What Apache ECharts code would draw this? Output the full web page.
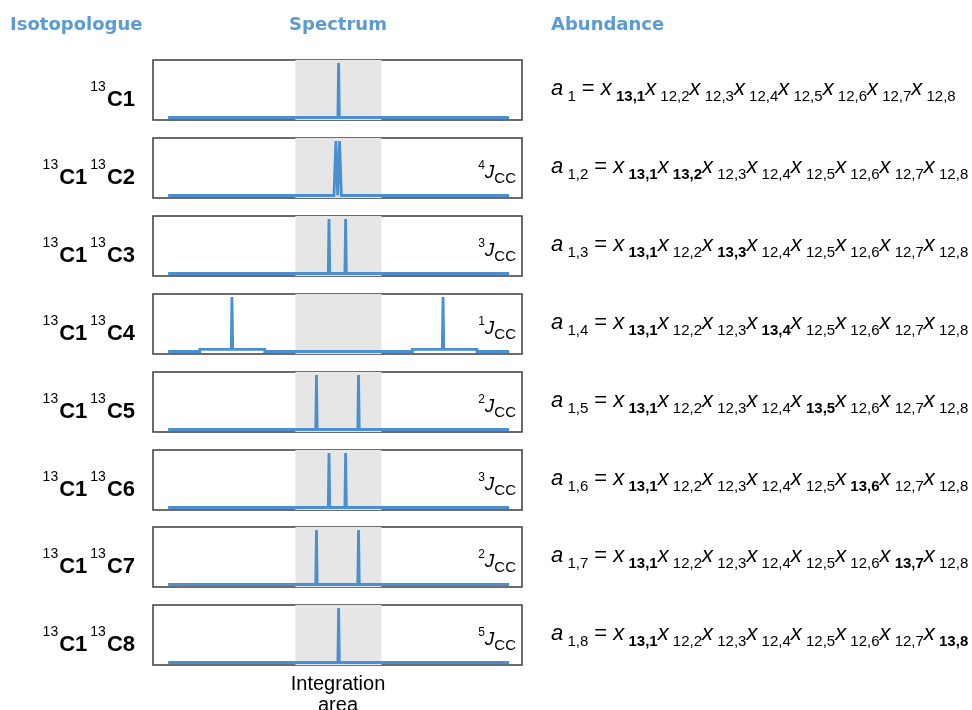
<!DOCTYPE html>
<html>
<head>
<meta charset="utf-8">
<script src="https://cdn.jsdelivr.net/npm/echarts@6/dist/echarts.min.js"></script>
<style>
  html, body { margin: 0; padding: 0; background: #ffffff; }
  #chart { width: 972px; height: 710px; }
</style>
</head>
<body>
<div id="chart"></div>
<script>
// ---------- data ----------
const headers = ['Isotopologue', 'Spectrum', 'Abundance'];
const secondCarbon = [null, 2, 3, 4, 5, 6, 7, 8];
const couplingOrder = [null, 4, 3, 1, 2, 3, 2, 5];
const integrationArea = [-11.4, 11.9];
const bottomLabel = 'Integration\narea';

// spectra: [shift, intensity] points
const spec1 = [[-45.9, 0], [0.1, 0], [0.3, 1], [0.5, 0], [46.5, 0]];
const spec2 = [[-45.9, 0], [-0.95, 0], [-0.45, 1], [0.05, 0], [0.55, 1], [1.05, 0], [46.5, 0]];
const spec3 = [[-45.9, 0], [-2.5, 0], [-2.3, 1], [-2.1, 0], [2.0, 0], [2.2, 1], [2.4, 0], [46.5, 0]];
const spec4 = [[-45.9, 0], [-37.3, 0], [-37.3, 0.04], [-28.8, 0.04], [-28.6, 1], [-28.4, 0.04], [-19.7, 0.04], [-19.7, 0],
               [20.3, 0], [20.3, 0.04], [28.4, 0.04], [28.6, 1], [28.8, 0.04], [37.8, 0.04], [37.8, 0], [46.5, 0]];
const spec5 = [[-45.9, 0], [-5.9, 0], [-5.7, 1], [-5.5, 0], [5.5, 0], [5.7, 1], [5.9, 0], [46.5, 0]];
const spec6 = [[-45.9, 0], [-2.5, 0], [-2.3, 1], [-2.1, 0], [2.0, 0], [2.2, 1], [2.4, 0], [46.5, 0]];
const spec7 = [[-45.9, 0], [-5.9, 0], [-5.7, 1], [-5.5, 0], [5.5, 0], [5.7, 1], [5.9, 0], [46.5, 0]];
const spec8 = [[-45.9, 0], [0.1, 0], [0.3, 1], [0.5, 0], [46.5, 0]];
const spectra = [spec1, spec2, spec3, spec4, spec5, spec6, spec7, spec8];

// ---------- layout ----------
const boxLeft = 153, boxWidth = 369, boxHeight = 60;
const boxTops = [60, 138, 216, 294, 372, 450, 527, 605];
const blue = '#5b9bd5';
const lineBlue = '#4a8fd1';

const grids = [], xAxes = [], yAxes = [], series = [], graphics = [];

spectra.forEach((d, i) => {
  grids.push({
    left: boxLeft, top: boxTops[i], width: boxWidth, height: boxHeight,
    show: true, borderColor: '#3c3c3c', borderWidth: 1.5, backgroundColor: '#fff'
  });
  xAxes.push({ type: 'value', gridIndex: i, min: -50, max: 50, show: false });
  yAxes.push({ type: 'value', gridIndex: i, min: -0.046, max: 1.055, show: false });
  series.push({
    type: 'line', xAxisIndex: i, yAxisIndex: i, data: d,
    showSymbol: false, silent: true, animation: false, sampling: null, smooth: false,
    lineStyle: { color: lineBlue, width: 2.8, join: 'miter' },
    markArea: {
      silent: true,
      itemStyle: { color: '#e6e6e6' },
      data: [[{ xAxis: integrationArea[0] }, { xAxis: integrationArea[1] }]]
    }
  });
});

// headers
const hFont = 'bold 18px "DejaVu Sans"';
graphics.push({ type: 'text', x: 10, y: 25, style: { text: headers[0], fill: blue, font: hFont, verticalAlign: 'middle', align: 'left' } });
graphics.push({ type: 'text', x: 338, y: 25, style: { text: headers[1], fill: blue, font: hFont, verticalAlign: 'middle', align: 'center' } });
graphics.push({ type: 'text', x: 551, y: 25, style: { text: headers[2], fill: blue, font: hFont, verticalAlign: 'middle', align: 'left' } });

const ff = 'Liberation Sans, Arial, sans-serif';

boxTops.forEach((top, i) => {
  const cy = top + boxHeight / 2;
  // left isotopologue labels
  let lbl = '{s|13}{b|C1}';
  if (secondCarbon[i] !== null) lbl += '{s|13}{b|C' + secondCarbon[i] + '}';
  graphics.push({
    type: 'text', x: 135, y: cy + 10,
    style: {
      text: lbl, align: 'right', verticalAlign: 'middle',
      rich: {
        s: { fontSize: 14, fontFamily: ff, fill: '#000', verticalAlign: 'top', padding: [2, 1, 0, 3] },
        b: { fontSize: 22, fontWeight: 'bold', fontFamily: ff, fill: '#000', lineHeight: 44 }
      }
    }
  });
  // coupling labels
  if (couplingOrder[i] !== null) {
    graphics.push({
      type: 'text', x: 516, y: cy + 5,
      style: {
        text: '{s|' + couplingOrder[i] + '}{j|J}{c|CC}', align: 'right', verticalAlign: 'middle',
        rich: {
          s: { fontSize: 12, fontFamily: ff, fill: '#000', verticalAlign: 'top' },
          j: { fontSize: 19, fontStyle: 'italic', fontFamily: ff, fill: '#000', lineHeight: 26 },
          c: { fontSize: 15, fontFamily: ff, fill: '#000', verticalAlign: 'bottom' }
        }
      }
    });
  }
  // abundance formulas
  const j = secondCarbon[i];
  let f = '{m|a}{s| ' + (j === null ? '1' : '1,' + j) + '}{e| = }';
  for (let k = 1; k <= 8; k++) {
    const heavy = (k === 1) || (k === j);
    f += '{m|x}' + (heavy ? '{h| 13,' + k + '}' : '{s| 12,' + k + '}');
  }
  graphics.push({
    type: 'text', x: 551, y: cy - 1,
    style: {
      text: f, align: 'left', verticalAlign: 'middle',
      rich: {
        m: { fontSize: 22, fontStyle: 'italic', fontFamily: ff, fill: '#000', lineHeight: 30 },
        e: { fontSize: 22, fontFamily: ff, fill: '#000', lineHeight: 30 },
        s: { fontSize: 15, fontFamily: ff, fill: '#000', verticalAlign: 'bottom' },
        h: { fontSize: 15, fontWeight: 'bold', fontFamily: ff, fill: '#000', verticalAlign: 'bottom' }
      }
    }
  });
});

// integration area label
graphics.push({
  type: 'text', x: 338, y: 674,
  style: { text: bottomLabel, align: 'center', verticalAlign: 'top', font: '20px ' + ff, fill: '#000', lineHeight: 21 }
});

const chart = echarts.init(document.getElementById('chart'), null, { renderer: 'canvas' });
chart.setOption({
  animation: false,
  grid: grids, xAxis: xAxes, yAxis: yAxes, series: series,
  graphic: { elements: graphics }
});
</script>
</body>
</html>
